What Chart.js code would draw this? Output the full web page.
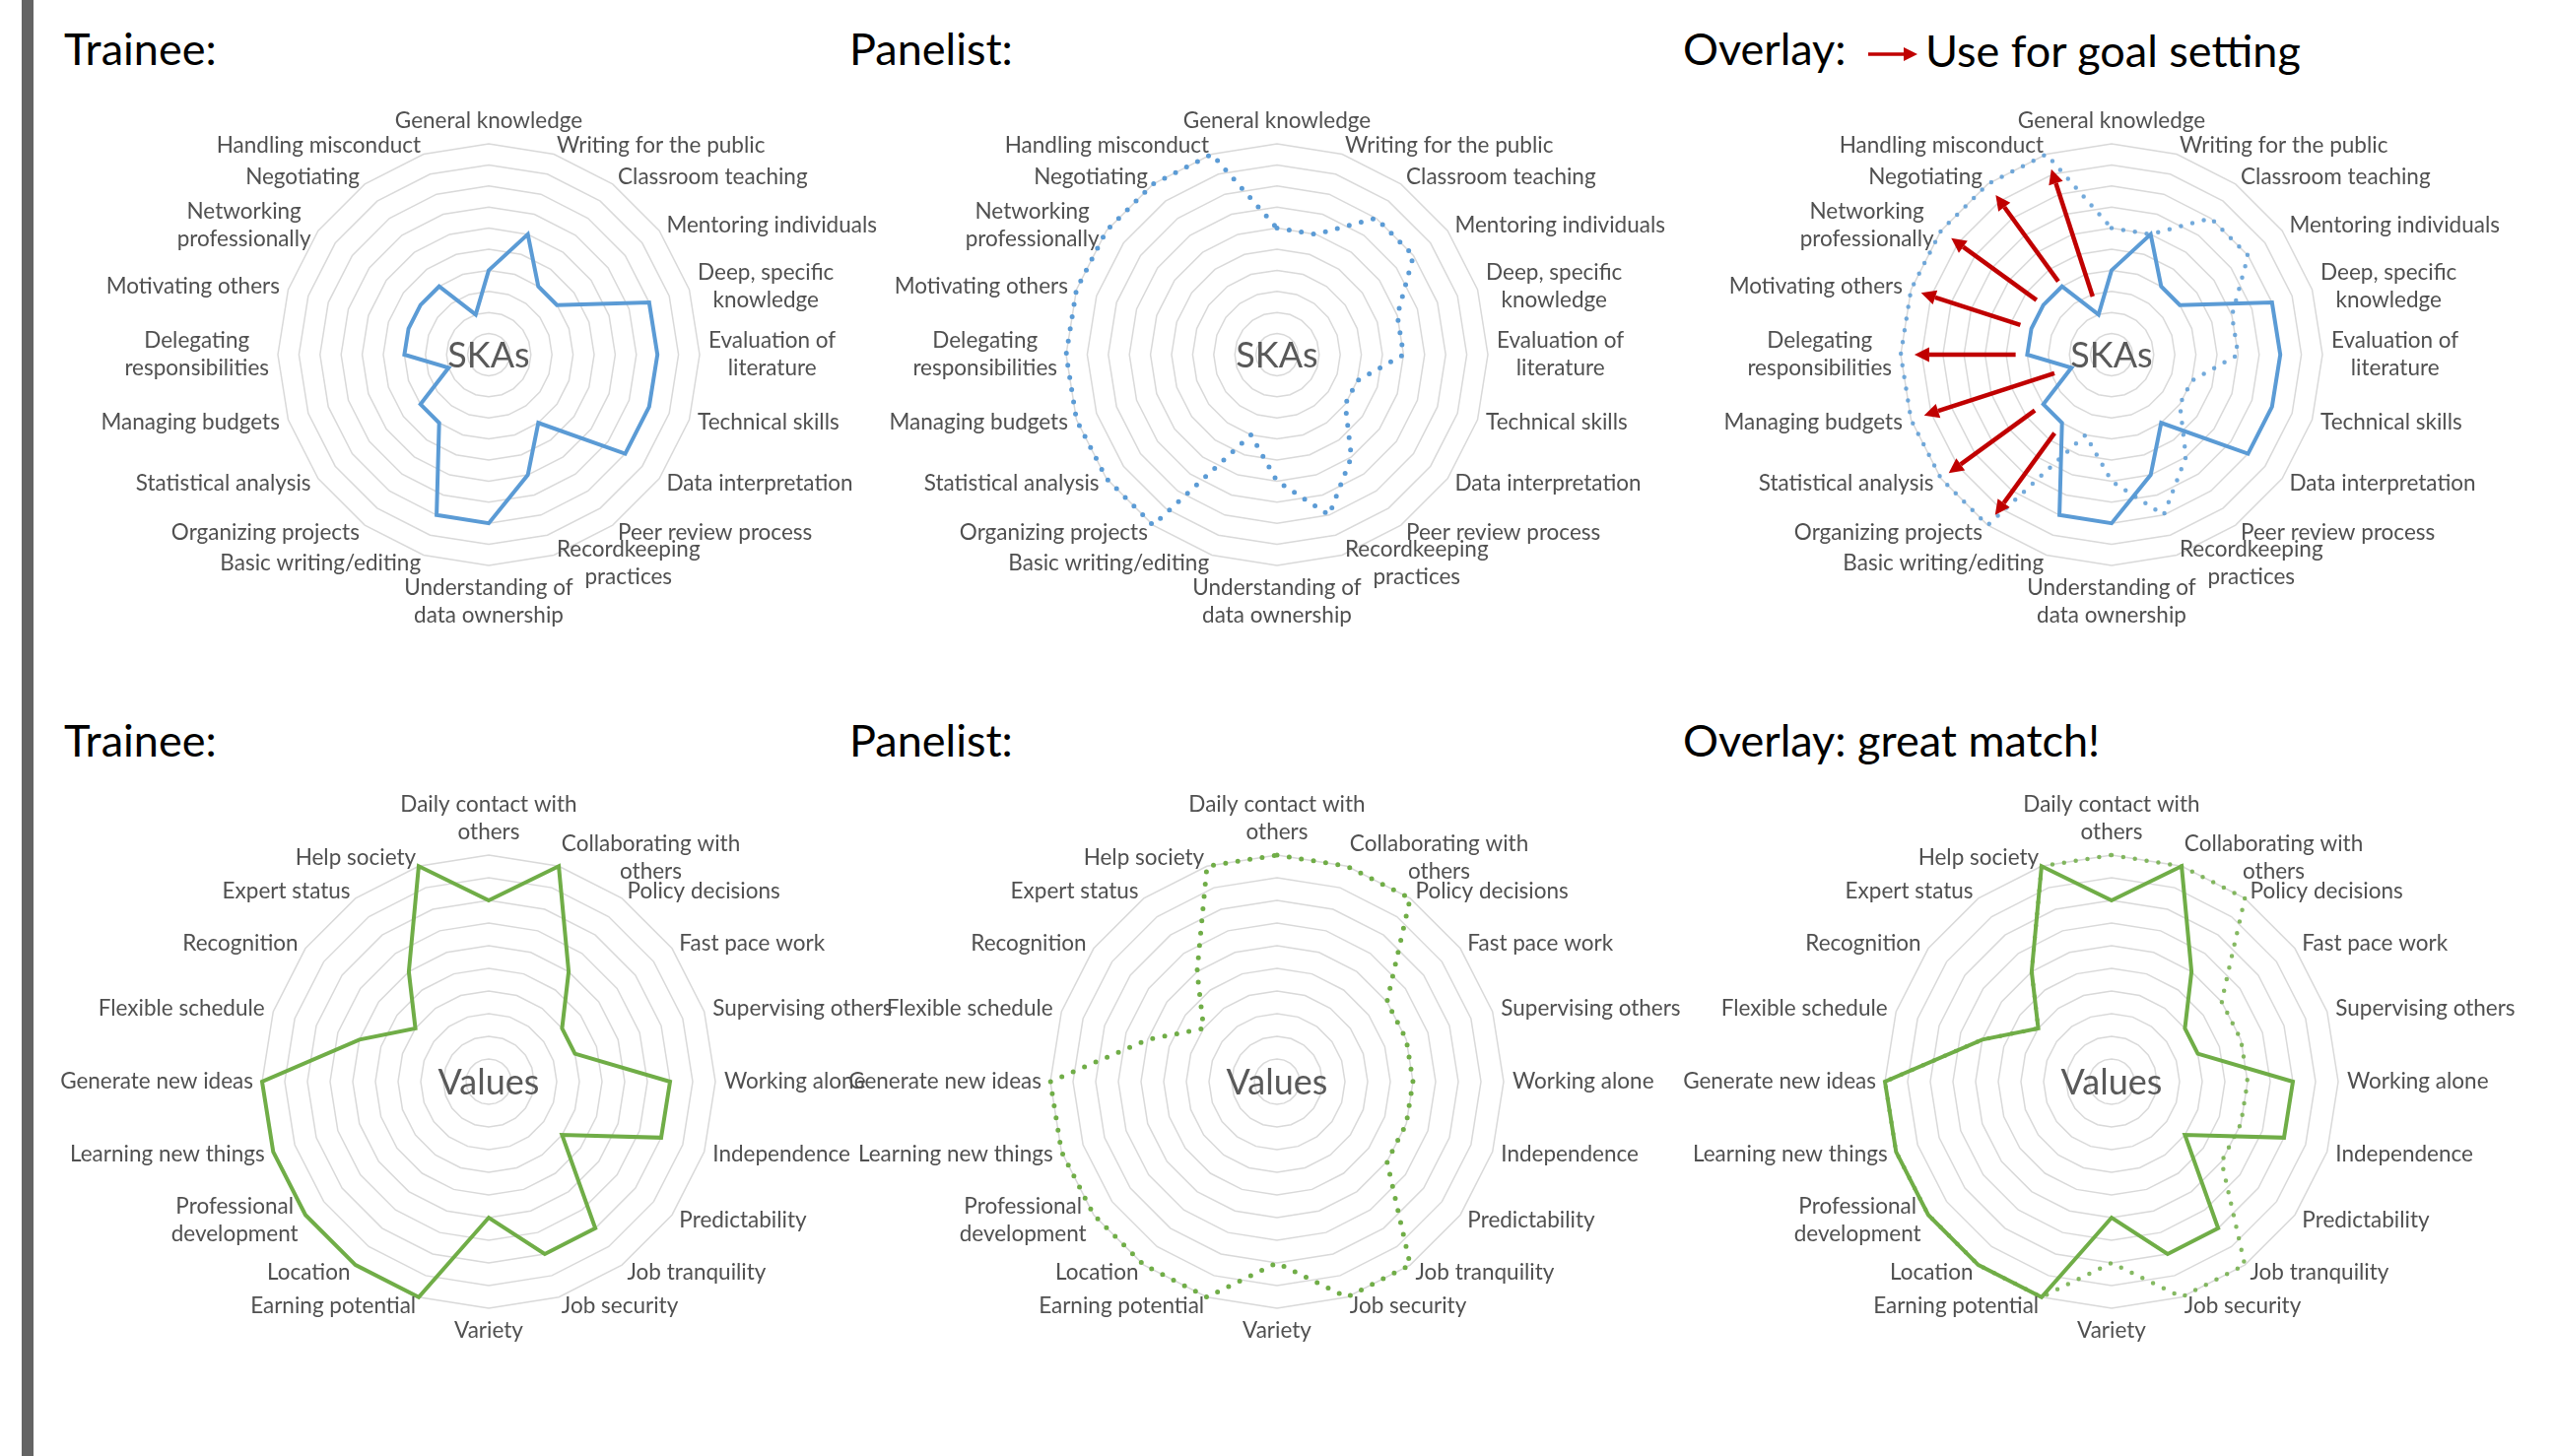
<!DOCTYPE html>
<html>
<head>
<meta charset="utf-8">
<script src="https://cdn.jsdelivr.net/npm/chart.js@4"></script>
<style>
  html, body { margin: 0; padding: 0; background: #fff; }
  #page { position: relative; width: 2592px; height: 1478px; overflow: hidden; font-family: Lato, sans-serif; }
  #bar { position: absolute; left: 22px; top: 0; width: 12px; height: 1478px; background: #646464; }
  .title { position: absolute; font-size: 45px; line-height: 45px; color: #000; white-space: nowrap; }
  canvas { position: absolute; }
  #skaTrainee { left: 36px; top: 20px; }
  #skaPanelist { left: 836px; top: 20px; }
  #skaOverlay { left: 1683px; top: 20px; }
  #valTrainee { left: 36px; top: 758px; }
  #valPanelist { left: 836px; top: 758px; }
  #valOverlay { left: 1683px; top: 758px; }
</style>
</head>
<body>
<div id="page">
  <div id="bar"></div>
  <div class="title" style="left:65px;top:27px">Trainee:</div>
  <div class="title" style="left:862px;top:27px">Panelist:</div>
  <div class="title" style="left:1708px;top:27px">Overlay:</div>
  <svg style="position:absolute;left:1890px;top:44px" width="60" height="24">
    <line x1="6" y1="11" x2="44" y2="11" stroke="#C00000" stroke-width="3.5"/>
    <polygon points="42,4 56,11 42,18" fill="#C00000"/>
  </svg>
  <div class="title" style="left:1954px;top:29px;font-size:45px">Use for goal setting</div>
  <div class="title" style="left:65px;top:729px">Trainee:</div>
  <div class="title" style="left:862px;top:729px">Panelist:</div>
  <div class="title" style="left:1708px;top:729px">Overlay: great match!</div>

  <canvas id="skaTrainee" width="920" height="680"></canvas>
  <canvas id="skaPanelist" width="920" height="680"></canvas>
  <canvas id="skaOverlay" width="920" height="680"></canvas>
  <canvas id="valTrainee" width="920" height="680"></canvas>
  <canvas id="valPanelist" width="920" height="680"></canvas>
  <canvas id="valOverlay" width="920" height="680"></canvas>
</div>
<script>
// skills, knowledge and abilities
const skaLabels = [
  "General knowledge", "Writing for the public", "Classroom teaching", "Mentoring individuals",
  ["Deep, specific", "knowledge"], ["Evaluation of", "literature"], "Technical skills",
  "Data interpretation", "Peer review process", ["Recordkeeping", "practices"],
  ["Understanding of", "data ownership"], "Basic writing/editing", "Organizing projects",
  "Statistical analysis", "Managing budgets", ["Delegating", "responsibilities"],
  "Motivating others", ["Networking", "professionally"], "Negotiating", "Handling misconduct"
];
const skaTrainee  = [4, 6, 4, 4, 8, 8, 8, 8, 4, 6, 8, 8, 4, 4, 2, 4, 4, 4, 4, 2];
const skaPanelist = [6, 6, 8, 8, 6, 6, 4, 4, 6, 8, 6, 4, 10, 10, 10, 10, 10, 10, 10, 10];

// values
const valueLabels = [
  ["Daily contact with", "others"], ["Collaborating with", "others"], "Policy decisions",
  "Fast pace work", "Supervising others", "Working alone", "Independence", "Predictability",
  "Job tranquility", "Job security", "Variety", "Earning potential", "Location",
  ["Professional", "development"], "Learning new things", "Generate new ideas",
  "Flexible schedule", "Recognition", "Expert status", "Help society"
];
const valueTrainee  = [8, 10, 6, 4, 4, 8, 8, 4, 8, 8, 6, 10, 10, 10, 10, 10, 6, 4, 6, 10];
const valuePanelist = [10, 10, 10, 6, 6, 6, 6, 6, 10, 10, 8, 10, 10, 10, 10, 10, 6, 4, 6, 10];

// goal-setting arrows on the SKA overlay (category index, from value, to value)
const arrowIndex = [19, 18, 17, 16, 15, 14, 13, 12];
const arrowFrom  = [2.9, 4.3, 4.4, 4.55, 4.55, 2.85, 4.5, 4.6];
const arrowTo    = [9.25, 9.35, 9.4, 9.5, 9.35, 9.35, 9.55, 9.4];

const BLUE = '#5B9BD5';
const GREEN = '#70AD47';
const LABEL_FONT = '22.5px Lato';
const LINE_H = 28;
const HALF_W = 460, HALF_H = 340;   // canvas centre offset

// excel style category labels: middle-aligned on the side, multi-line centred
const excelLabels = {
  id: 'excelLabels',
  afterDraw(chart, args, opts) {
    const scale = chart.scales.r;
    const ctx = chart.ctx;
    const labels = chart.data.labels;
    ctx.save();
    ctx.font = LABEL_FONT;
    ctx.fillStyle = '#505050';
    ctx.textBaseline = 'middle';
    ctx.textAlign = 'center';
    labels.forEach((lab, i) => {
      const lines = Array.isArray(lab) ? lab : [lab];
      const w = Math.max(...lines.map(l => ctx.measureText(l).width));
      const h = lines.length * LINE_H;
      const p = scale.getPointPosition(i, scale.drawingArea + opts.gap);
      const deg = Math.round(i * 360 / labels.length);
      let cx, top;
      if (deg === 0) { cx = p.x; top = p.y - h; }
      else if (deg === 180) { cx = p.x; top = p.y; }
      else if (deg < 180) { cx = p.x + w / 2; top = p.y - h / 2; }
      else { cx = p.x - w / 2; top = p.y - h / 2; }
      lines.forEach((l, k) => ctx.fillText(l, cx, top + LINE_H * (k + 0.5)));
    });
    ctx.restore();
  }
};

const centerText = {
  id: 'centerText',
  beforeDatasetsDraw(chart, args, opts) {
    const scale = chart.scales.r;
    const ctx = chart.ctx;
    ctx.save();
    ctx.font = '36px Lato';
    ctx.fillStyle = '#595959';
    ctx.textAlign = 'center';
    ctx.textBaseline = 'middle';
    ctx.fillText(opts.text, scale.xCenter, scale.yCenter + 1);
    ctx.restore();
  }
};

const goalArrows = {
  id: 'goalArrows',
  afterDatasetsDraw(chart, args, opts) {
    if (!opts.show) return;
    const scale = chart.scales.r;
    const ctx = chart.ctx;
    ctx.save();
    ctx.strokeStyle = '#C00000';
    ctx.fillStyle = '#C00000';
    ctx.lineWidth = 4.5;
    arrowIndex.forEach((idx, k) => {
      const a = scale.getPointPositionForValue(idx, arrowFrom[k]);
      const b = scale.getPointPositionForValue(idx, arrowTo[k]);
      const ang = Math.atan2(b.y - a.y, b.x - a.x);
      const hl = 15, hw = 7.5;
      const bx = b.x - hl * Math.cos(ang), by = b.y - hl * Math.sin(ang);
      ctx.beginPath();
      ctx.moveTo(a.x, a.y);
      ctx.lineTo(bx, by);
      ctx.stroke();
      ctx.beginPath();
      ctx.moveTo(b.x, b.y);
      ctx.lineTo(bx + hw * Math.sin(ang), by - hw * Math.cos(ang));
      ctx.lineTo(bx - hw * Math.sin(ang), by + hw * Math.cos(ang));
      ctx.closePath();
      ctx.fill();
    });
    ctx.restore();
  }
};

function solid(data, color) {
  return { data: data, borderColor: color, borderWidth: 4, fill: false, pointRadius: 0, order: 1 };
}
function dotted(data, color, width, gap) {
  return {
    data: data, borderColor: color, borderWidth: width, borderDash: [0, gap],
    borderCapStyle: 'round', borderJoinStyle: 'round', fill: false, pointRadius: 0, order: 0
  };
}

function radar(id, labels, datasets, R, text, arrows) {
  const padX = HALF_W - R, padY = HALF_H - R;
  return new Chart(document.getElementById(id), {
    type: 'radar',
    data: { labels: labels, datasets: datasets },
    options: {
      responsive: false,
      animation: false,
      layout: { padding: { left: padX, right: padX, top: padY, bottom: padY } },
      elements: { line: { tension: 0 } },
      plugins: {
        legend: { display: false },
        tooltip: { enabled: false },
        excelLabels: { gap: 9 },
        centerText: { text: text },
        goalArrows: { show: !!arrows }
      },
      scales: {
        r: {
          min: 0, max: 10,
          ticks: { display: false, stepSize: 1 },
          grid: { circular: false, color: '#D9D9D9', lineWidth: 1.5 },
          angleLines: { display: false },
          pointLabels: { display: false }
        }
      }
    },
    plugins: [excelLabels, centerText, goalArrows]
  });
}

radar('skaTrainee', skaLabels, [solid(skaTrainee, BLUE)], 214, 'SKAs');
radar('skaPanelist', skaLabels, [dotted(skaPanelist, BLUE, 5, 12.5)], 214, 'SKAs');
radar('skaOverlay', skaLabels,
  [dotted(skaPanelist, 'rgba(91,155,213,0.85)', 4.5, 12), solid(skaTrainee, BLUE)], 214, 'SKAs', true);

radar('valTrainee', valueLabels, [solid(valueTrainee, GREEN)], 230, 'Values');
radar('valPanelist', valueLabels, [dotted(valuePanelist, GREEN, 5, 12.5)], 230, 'Values');
radar('valOverlay', valueLabels,
  [dotted(valuePanelist, 'rgba(112,173,71,0.85)', 4.5, 12), solid(valueTrainee, GREEN)], 230, 'Values');
</script>
</body>
</html>
